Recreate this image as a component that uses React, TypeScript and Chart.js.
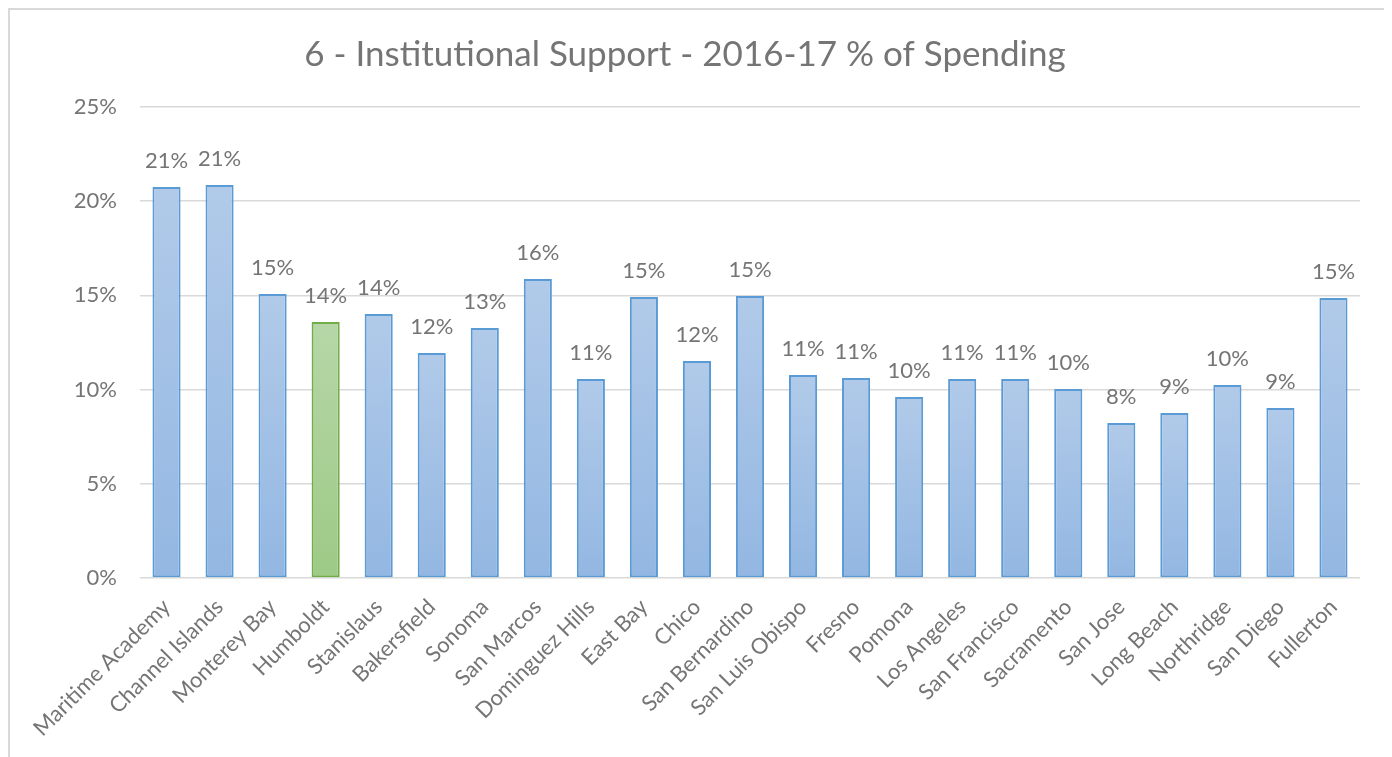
import React, { useEffect, useRef } from "react";
import { Chart, registerables } from "chart.js";

Chart.register(...registerables);

const TITLE = "6 - Institutional Support - 2016-17 % of Spending";

const campuses = [
  "Maritime Academy", "Channel Islands", "Monterey Bay", "Humboldt", "Stanislaus",
  "Bakersfield", "Sonoma", "San Marcos", "Dominguez Hills", "East Bay", "Chico",
  "San Bernardino", "San Luis Obispo", "Fresno", "Pomona", "Los Angeles",
  "San Francisco", "Sacramento", "San Jose", "Long Beach", "Northridge",
  "San Diego", "Fullerton",
];

const spendingPct = [
  20.75, 20.86, 15.07, 13.59, 14.01,
  11.94, 13.27, 15.87, 10.56, 14.92, 11.52,
  14.97, 10.78, 10.62, 9.61, 10.56,
  10.56, 10.03, 8.23, 8.76, 10.24,
  9.02, 14.86,
];

const highlighted = ["Humboldt"];

const yTicks = [0, 5, 10, 15, 20, 25];

const FONT = "Lato, 'Open Sans', sans-serif";
const TEXT = "#757575";

const labelPlugin = {
  id: "barValueLabels",
  afterDatasetsDraw(chart: any) {
    const { ctx } = chart;
    const meta = chart.getDatasetMeta(0);
    ctx.save();
    ctx.font = `22px ${FONT}`;
    ctx.fillStyle = TEXT;
    ctx.textAlign = "center";
    ctx.textBaseline = "alphabetic";
    meta.data.forEach((bar: any, i: number) => {
      const v = spendingPct[i];
      ctx.fillText(Math.round(v) + "%", bar.x, bar.y - 19);
    });
    ctx.restore();
  },
};

export default function App() {
  const ref = useRef<HTMLCanvasElement | null>(null);

  useEffect(() => {
    if (!ref.current) return;
    const isHi = (i: number) => highlighted.includes(campuses[i]);
    const chart = new Chart(ref.current, {
      type: "bar",
      data: {
        labels: campuses,
        datasets: [
          {
            data: spendingPct,
            backgroundColor: (c: any) => {
              const ch = c.chart;
              const area = ch.chartArea;
              const ys = ch.scales && ch.scales.y;
              const hi = isHi(c.dataIndex);
              if (!area || !ys || c.raw == null) return hi ? "#a9d093" : "#a3c2e6";
              const top = ys.getPixelForValue(c.raw);
              const g = ch.ctx.createLinearGradient(0, top, 0, area.bottom);
              if (hi) {
                g.addColorStop(0, "#b6d6a7");
                g.addColorStop(1, "#9dca86");
              } else {
                g.addColorStop(0, "#b1cae9");
                g.addColorStop(1, "#93b7e2");
              }
              return g;
            },
            borderColor: spendingPct.map((_, i) => (isHi(i) ? "#70ad47" : "#5b9bd5")),
            borderWidth: 2,
            borderSkipped: false,
            barPercentage: 0.53,
            categoryPercentage: 1,
          },
        ],
      },
      options: {
        animation: false,
        responsive: false,
        maintainAspectRatio: false,
        layout: { padding: { left: 0, right: 27, top: 0, bottom: 0 } },
        plugins: {
          legend: { display: false },
          tooltip: { enabled: false },
          title: {
            display: true,
            text: TITLE,
            color: TEXT,
            font: { family: FONT, size: 35, weight: "normal" },
            padding: { top: 24, bottom: 31 },
          },
        },
        scales: {
          x: {
            grid: { display: false },
            border: { display: false },
            ticks: {
              color: TEXT,
              font: { family: FONT, size: 22 },
              maxRotation: 45,
              minRotation: 45,
              autoSkip: false,
              padding: 8,
            },
            afterFit: (s: any) => {
              s.height = 179;
            },
          },
          y: {
            min: 0,
            max: 25,
            afterBuildTicks: (s: any) => {
              s.ticks = yTicks.map((v) => ({ value: v }));
            },
            grid: { color: "#d9d9d9", lineWidth: 1.5, drawTicks: false },
            border: { display: false },
            ticks: {
              color: TEXT,
              font: { family: FONT, size: 22 },
              padding: 23,
              callback: (v: any) => v + "%",
            },
            afterFit: (s: any) => {
              s.width = 130;
            },
          },
        },
      },
      plugins: [labelPlugin],
    });
    return () => chart.destroy();
  }, []);

  return (
    <div
      style={{
        position: "relative",
        width: 1381,
        height: 749,
        boxSizing: "border-box",
        borderTop: "2px solid #d9d9d9",
        borderLeft: "2px solid #d9d9d9",
        borderRight: "2px solid #d9d9d9",
        background: "#fff",
      }}
    >
      <canvas
        ref={ref}
        width={1377}
        height={747}
        style={{ position: "absolute", left: 0, top: 0, width: 1377, height: 747 }}
      />
    </div>
  );
}
